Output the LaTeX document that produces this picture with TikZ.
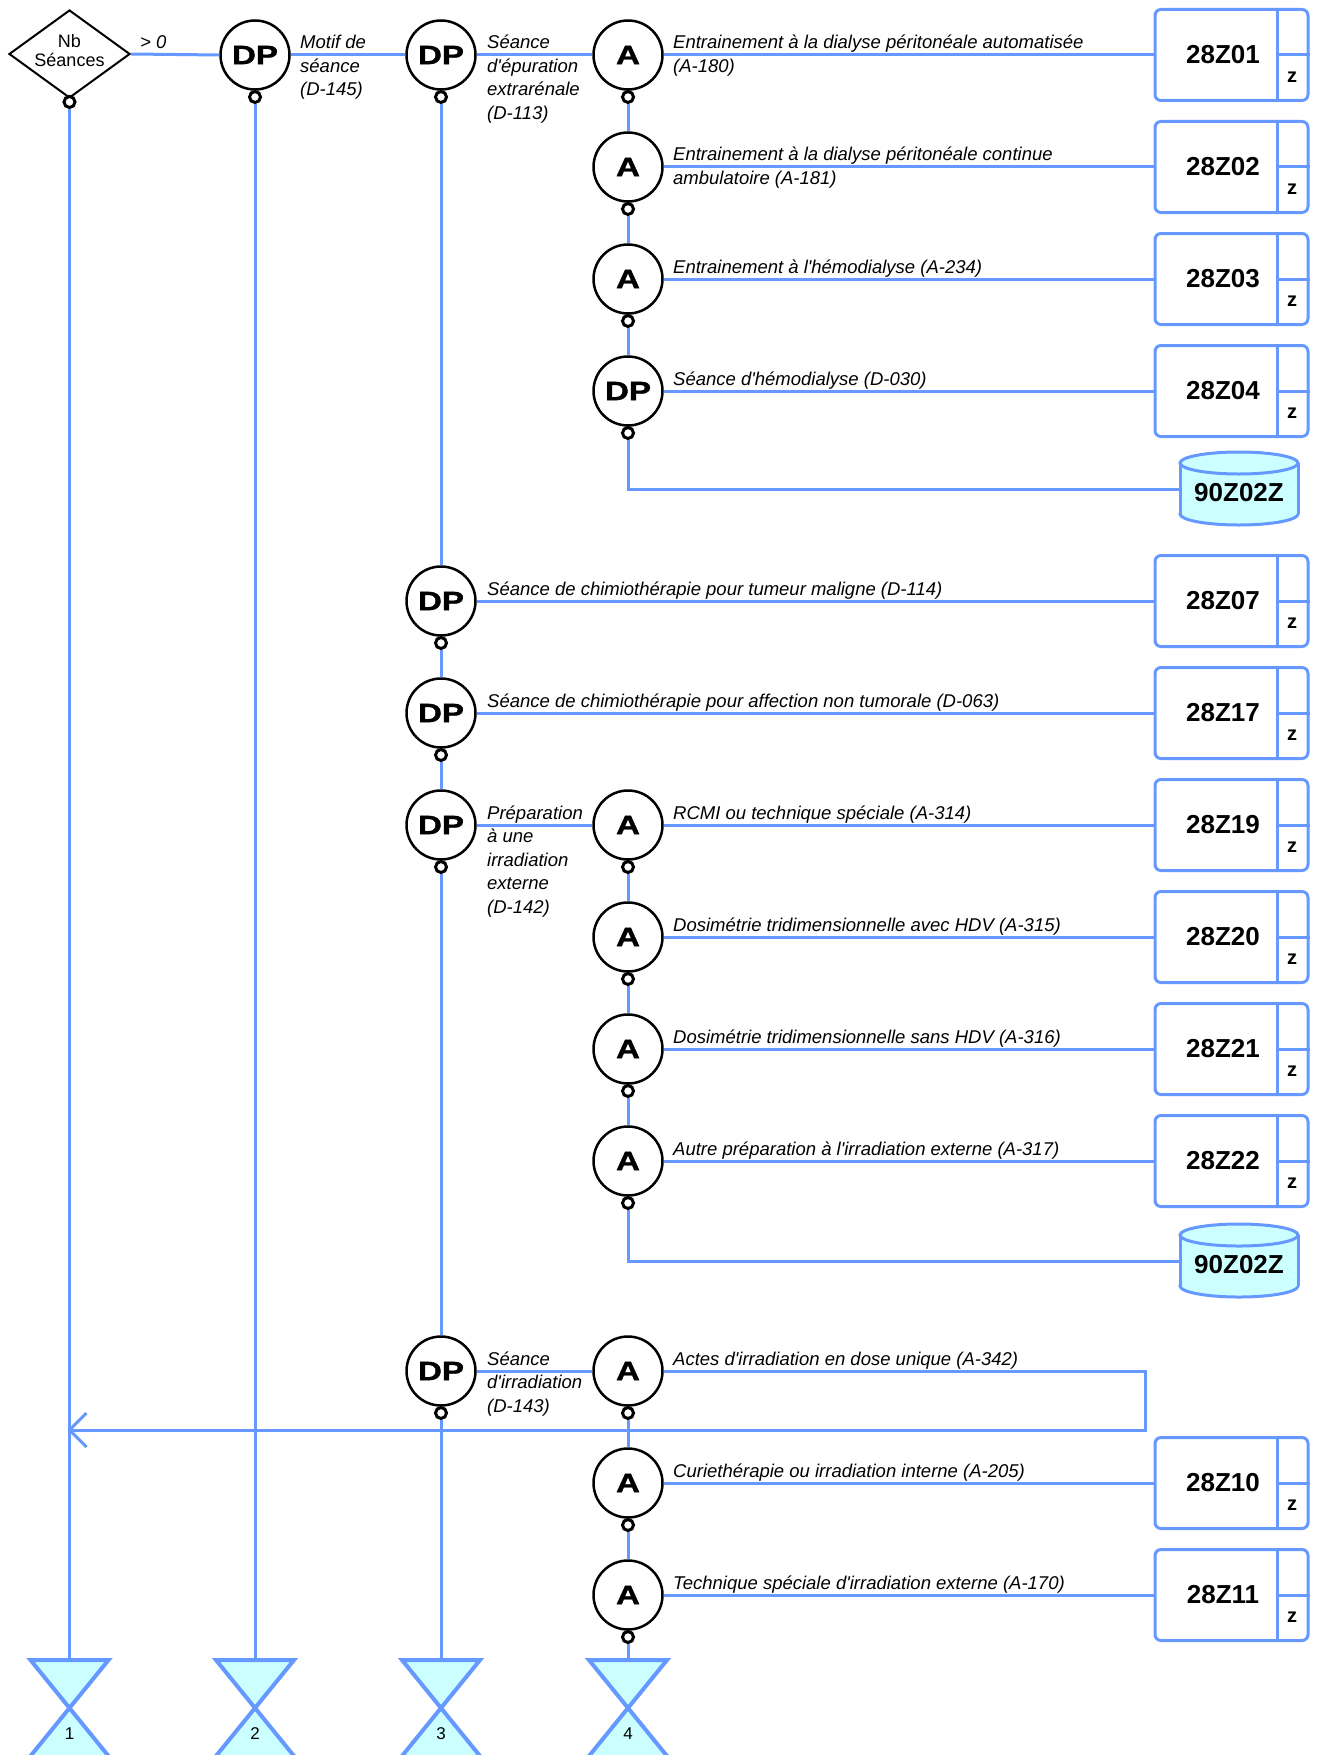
\documentclass[tikz,border=0pt]{standalone}
\usepackage{fontspec}
\setmainfont{Liberation Sans}[Ligatures=TeXOff]
\newfontfamily\heavyfont{Liberation Sans Bold}[FakeBold=1.2]
\usetikzlibrary{shapes.geometric}
\definecolor{lnk}{HTML}{6699FF}
\definecolor{cyanf}{HTML}{CCFFFF}
\newcommand\mlines[1]{\begin{tabular}[t]{@{}l@{}}#1\end{tabular}}
\newcommand\hstr[1]{\scalebox{1.25}[1]{#1}}
\newcommand\zbox[3]{%
  \node[zb] (#1) at (1231.5,#2) {};
  \draw[link] ([xshift=-32pt]#1.north east) -- ([xshift=-32pt]#1.south east);
  \draw[link] ([xshift=-32pt]#1.east) -- (#1.east);
  \node[zlab] (#1-t) at (1223,#2) {#3};
  \node[zz] (#1-z) at (1292,{#2+22}) {z};
}
\newcommand\cylnode[3]{%
  \filldraw[cylst] (1239,{#2+25}) ellipse [x radius=59, y radius=11];
  \fill[cyanf] (1180,{#2-26}) rectangle (1298,{#2+25});
  \draw[cylst] (1180,{#2-26}) -- (1180,{#2+25}) (1298,{#2-26}) -- (1298,{#2+25});
  \filldraw[cylst] (1239,{#2-26}) ellipse [x radius=59, y radius=11];
  \node[cylbox] (#1) at (1239,#2) {};
  \node[cyltext] (#1-t) at (1239,{#2+4}) {#3};
}
\newcommand\hglass[3]{%
  \filldraw[hgst] ({#2-39},1660) -- ({#2+39},1660) -- (#2,1708) -- cycle;
  \filldraw[hgst] (#2,1708) -- ({#2+42.25},1760) -- ({#2-42.25},1760) -- cycle;
  \coordinate (#1) at (#2,1660);
  \node[numst] (#1-n) at (#2,1734) {#3};
}
\begin{document}
\begin{tikzpicture}[x=1pt,y=-1pt,
  link/.style={draw=lnk, line width=3pt},
  circ/.style={circle, draw=black, line width=2.5pt, fill=white, minimum size=69pt, inner sep=0pt, font=\fontsize{26.5}{26.5}\selectfont\heavyfont},
  oc/.style={circle, draw=black, line width=3pt, fill=white, minimum size=11pt, inner sep=0pt},
  lbl/.style={anchor=base west, inner sep=0pt, font=\fontsize{18.5}{23.5}\selectfont\itshape},
  zb/.style={draw=lnk, line width=3pt, rounded corners=6pt, fill=white, minimum width=153pt, minimum height=91pt, inner sep=0pt},
  zlab/.style={inner sep=0pt, font=\fontsize{26}{26}\selectfont\bfseries},
  zz/.style={inner sep=0pt, font=\fontsize{20}{20}\selectfont\bfseries},
  cylst/.style={draw=lnk, fill=cyanf, line width=3pt},
  cylbox/.style={inner sep=0pt, minimum width=118pt, minimum height=73pt},
  cyltext/.style={inner sep=0pt, font=\fontsize{26}{26}\selectfont\bfseries},
  hgst/.style={draw=lnk, fill=cyanf, line width=4pt, line join=miter},
  numst/.style={inner sep=0pt, font=\fontsize{17}{17}\selectfont},
]
\useasboundingbox[fill=white] (0,0) rectangle (1318,1755);

% ---- column 1: decision
\node[diamond, draw=black, line width=2pt, fill=white, minimum width=121pt, minimum height=88pt, inner sep=0pt] (nb) at (69.5,54) {};
\node[anchor=base, inner sep=0pt, font=\fontsize{18}{19}\selectfont] (nbt) at (69.5,48) {\begin{tabular}[t]{@{}c@{}}Nb\\Séances\end{tabular}};
\node[oc] (nbo) at (69.5,102) {};
\node[lbl] (gt) at (140,49) {> 0};

% ---- column 2
\node[circ] (dp2) at (255,55) {\hstr{DP}};
\node[oc] (dp2o) at (255,97) {};
\node[lbl] (l2) at (300,49) {\mlines{Motif de\\séance\\(D-145)}};

% ---- column 3
\node[circ] (dp3) at (441,55) {\hstr{DP}};
\node[oc] (dp3o) at (441,97) {};
\node[lbl] (l3) at (487,49) {\mlines{Séance\\d'épuration\\extrarénale\\(D-113)}};

\node[circ] (dp5) at (441,601) {\hstr{DP}};
\node[oc] (dp5o) at (441,643) {};
\node[lbl] (l5) at (487,595) {Séance de chimiothérapie pour tumeur maligne (D-114)};

\node[circ] (dp6) at (441,713) {\hstr{DP}};
\node[oc] (dp6o) at (441,755) {};
\node[lbl] (l6) at (487,707) {Séance de chimiothérapie pour affection non tumorale (D-063)};

\node[circ] (dp7) at (441,825) {\hstr{DP}};
\node[oc] (dp7o) at (441,867) {};
\node[lbl] (l7) at (487,819) {\mlines{Préparation\\à une\\irradiation\\externe\\(D-142)}};

\node[circ] (dp11) at (441,1371) {\hstr{DP}};
\node[oc] (dp11o) at (441,1413) {};
\node[lbl] (l11) at (487,1365) {\mlines{Séance\\d'irradiation\\(D-143)}};

% ---- column 4
\node[circ] (a1) at (628,55) {\hstr{A}};
\node[oc] (a1o) at (628,97) {};
\node[lbl] (la1) at (673,49) {\mlines{Entrainement à la dialyse péritonéale automatisée\\(A-180)}};

\node[circ] (a2) at (628,167) {\hstr{A}};
\node[oc] (a2o) at (628,209) {};
\node[lbl] (la2) at (673,161) {\mlines{Entrainement à la dialyse péritonéale continue\\ambulatoire (A-181)}};

\node[circ] (a3) at (628,279) {\hstr{A}};
\node[oc] (a3o) at (628,321) {};
\node[lbl] (la3) at (673,273) {Entrainement à l'hémodialyse (A-234)};

\node[circ] (dp4) at (628,391) {\hstr{DP}};
\node[oc] (dp4o) at (628,433) {};
\node[lbl] (ldp4) at (673,385) {Séance d'hémodialyse (D-030)};

\node[circ] (a7) at (628,825) {\hstr{A}};
\node[oc] (a7o) at (628,867) {};
\node[lbl] (la7) at (673,819) {RCMI ou technique spéciale (A-314)};

\node[circ] (a8) at (628,937) {\hstr{A}};
\node[oc] (a8o) at (628,979) {};
\node[lbl] (la8) at (673,931) {Dosimétrie tridimensionnelle avec HDV (A-315)};

\node[circ] (a9) at (628,1049) {\hstr{A}};
\node[oc] (a9o) at (628,1091) {};
\node[lbl] (la9) at (673,1043) {Dosimétrie tridimensionnelle sans HDV (A-316)};

\node[circ] (a10) at (628,1161) {\hstr{A}};
\node[oc] (a10o) at (628,1203) {};
\node[lbl] (la10) at (673,1155) {Autre préparation à l'irradiation externe (A-317)};

\node[circ] (a11) at (628,1371) {\hstr{A}};
\node[oc] (a11o) at (628,1413) {};
\node[lbl] (la11) at (673,1365) {Actes d'irradiation en dose unique (A-342)};

\node[circ] (a12) at (628,1483) {\hstr{A}};
\node[oc] (a12o) at (628,1525) {};
\node[lbl] (la12) at (673,1477) {Curiethérapie ou irradiation interne (A-205)};

\node[circ] (a13) at (628,1595) {\hstr{A}};
\node[oc] (a13o) at (628,1637) {};
\node[lbl] (la13) at (673,1589) {Technique spéciale d'irradiation externe (A-170)};

% ---- result boxes
\zbox{b01}{55}{28Z01}
\zbox{b02}{167}{28Z02}
\zbox{b03}{279}{28Z03}
\zbox{b04}{391}{28Z04}
\zbox{b07}{601}{28Z07}
\zbox{b17}{713}{28Z17}
\zbox{b19}{825}{28Z19}
\zbox{b20}{937}{28Z20}
\zbox{b21}{1049}{28Z21}
\zbox{b22}{1161}{28Z22}
\zbox{b10}{1483}{28Z10}
\zbox{b11}{1595}{28Z11}

\cylnode{c1}{489}{90Z02Z}
\cylnode{c2}{1261}{90Z02Z}

% ---- hourglasses
\hglass{hg1}{69.5}{1}
\hglass{hg2}{255}{2}
\hglass{hg3}{441}{3}
\hglass{hg4}{628}{4}

% ---- connectors: horizontal
\draw[link] (nb.east) -- (dp2.west);
\draw[link] (dp2) -- (dp3);
\draw[link] (dp3) -- (a1);
\draw[link] (a1) -- (b01);
\draw[link] (a2) -- (b02);
\draw[link] (a3) -- (b03);
\draw[link] (dp4) -- (b04);
\draw[link] (dp5) -- (b07);
\draw[link] (dp6) -- (b17);
\draw[link] (dp7) -- (a7);
\draw[link] (a7) -- (b19);
\draw[link] (a8) -- (b20);
\draw[link] (a9) -- (b21);
\draw[link] (a10) -- (b22);
\draw[link] (dp11) -- (a11);
\draw[link] (a12) -- (b10);
\draw[link] (a13) -- (b11);

% ---- connectors: vertical
\draw[link] (nbo) -- (hg1);
\draw[link] (dp2o) -- (hg2);
\draw[link] (dp3o) -- (dp5);
\draw[link] (dp5o) -- (dp6);
\draw[link] (dp6o) -- (dp7);
\draw[link] (dp7o) -- (dp11);
\draw[link] (dp11o) -- (hg3);
\draw[link] (a1o) -- (a2);
\draw[link] (a2o) -- (a3);
\draw[link] (a3o) -- (dp4);
\draw[link] (dp4o) |- (c1.west);
\draw[link] (a7o) -- (a8);
\draw[link] (a8o) -- (a9);
\draw[link] (a9o) -- (a10);
\draw[link] (a10o) |- (c2.west);
\draw[link] (a11o) -- (a12);
\draw[link] (a12o) -- (a13);
\draw[link] (a13o) -- (hg4);

% ---- loop back arrow
\coordinate (rt) at (1145,1371);
\coordinate (rb) at (1145,1430);
\coordinate (tip) at (69.5,1430);
\draw[link, line join=miter] (a11) -- (rt) -- (rb) -- (tip);
\draw[link, line join=round] ([shift={(17,-17)}]tip) -- (tip) -- ([shift={(17,17)}]tip);
\end{tikzpicture}
\end{document}
